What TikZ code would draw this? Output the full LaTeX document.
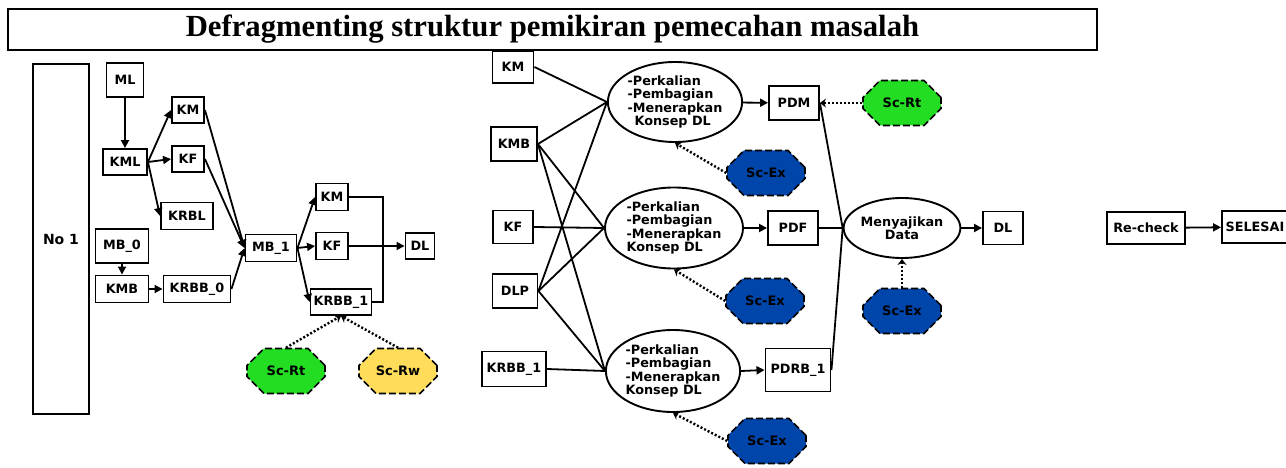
\documentclass[tikz,border=0pt]{standalone}
\usepackage{fontspec}
\setmainfont{DejaVu Sans}
\newfontfamily\titlefont{Liberation Serif}
\usepackage{tikz}
\usetikzlibrary{arrows.meta,shapes.geometric,shapes.misc}
\definecolor{scgreen}{RGB}{34,221,34}
\definecolor{scyellow}{RGB}{255,221,90}
\definecolor{scblue}{RGB}{0,70,170}

\begin{document}
\begin{tikzpicture}[x=1pt, y=-1pt,
  box/.style={draw, line width=1.9pt, fill=white, inner sep=0pt, font=\bfseries\fontsize{12.8}{14}\selectfont},
  oval/.style={ellipse, draw, line width=1.9pt, inner sep=0pt, align=left, font=\bfseries\fontsize{12.8}{13.6}\selectfont},
  sc/.style={chamfered rectangle, chamfered rectangle xsep=12pt, chamfered rectangle ysep=12pt, draw,
    dash pattern=on 7pt off 3pt, line width=1.6pt,
    inner sep=0pt, minimum width=78pt, minimum height=45pt, font=\bfseries\fontsize{13}{15}\selectfont},
  arr/.style={line width=1.8pt, -{Triangle[length=8pt,width=8pt]}},
  link/.style={line width=1.8pt},
  dotarr/.style={line width=2.4pt, dash pattern=on 2pt off 2pt, -{Stealth[length=6pt,width=9pt]}}]
  \useasboundingbox (0,0) rectangle (1286,468);

  % 0) Title
  \node[draw, line width=1.6pt, minimum width=1089pt, minimum height=41pt, inner sep=0pt,
    font=\titlefont\bfseries\fontsize{30.7}{32}\selectfont] (title) at (552.5,29.5)
    {Defragmenting struktur pemikiran pemecahan masalah};

  % 1) Left part
  \node[box, minimum width=56pt, minimum height=350pt, font=\bfseries\fontsize{14}{15}\selectfont] (no1) at (61,239) {No 1};
  \node[box, minimum width=37pt, minimum height=34pt] (ml) at (125,80) {ML};
  \node[box, minimum width=44pt, minimum height=26pt] (kml) at (125,162) {KML};
  \node[box, minimum width=32pt, minimum height=26pt] (km1) at (188,110) {KM};
  \node[box, minimum width=32pt, minimum height=26pt] (kf1) at (188,159) {KF};
  \node[box, minimum width=52pt, minimum height=27pt] (krbl) at (187,216) {KRBL};
  \node[box, minimum width=53pt, minimum height=34pt] (mb0) at (122,246) {MB\_0};
  \node[box, minimum width=53pt, minimum height=27pt] (kmb1) at (122,289) {KMB};
  \node[box, minimum width=67pt, minimum height=27pt] (krbb0) at (197,289) {KRBB\_0};
  \node[box, minimum width=51pt, minimum height=27pt] (mb1) at (271,248) {MB\_1};
  \node[box, minimum width=32pt, minimum height=27pt] (km2) at (332,197) {KM};
  \node[box, minimum width=32pt, minimum height=27pt] (kf2) at (332,246) {KF};
  \node[box, minimum width=61pt, minimum height=26pt] (krbb1) at (341,302) {KRBB\_1};
  \node[box, minimum width=29pt, minimum height=26pt] (dl1) at (420,246) {DL};
  \node[sc, fill=scgreen] (scrt1) at (286,371) {Sc-Rt};
  \node[sc, fill=scyellow] (scrw) at (398,371) {Sc-Rw};

  \draw[arr] (ml) -- (kml);
  \draw[arr] (kml.east) -- (km1.west);
  \draw[arr] (kml.east) -- (kf1.west);
  \draw[arr] (kml.east) -- (krbl.west);
  \draw[arr] (mb0) -- (kmb1);
  \draw[arr] (kmb1) -- (krbb0);
  \foreach \a in {km1, kf1, krbb0}
    \draw[arr] (\a.east) -- (mb1.west);
  \foreach \b in {km2, kf2, krbb1}
    \draw[arr] (mb1.east) -- (\b.west);
  \draw[arr] (kf2) -- (dl1);
  \draw[link] (km2.east) -- ++(34,0) |- (krbb1.east);
  \draw[dotarr] (scrt1.north) -- (krbb1.south);
  \draw[dotarr] (scrw.north) -- (krbb1.south);

  % 2) Right part
  \node[box, minimum width=41pt, minimum height=32pt] (km3) at (513,67) {KM};
  \node[box, minimum width=46pt, minimum height=34pt] (kmb2) at (514,144) {KMB};
  \node[box, minimum width=40pt, minimum height=33pt] (kf3) at (513,227) {KF};
  \node[box, minimum width=45pt, minimum height=34pt] (dlp) at (515,291) {DLP};
  \node[box, minimum width=64pt, minimum height=35pt] (krbb2) at (514,369) {KRBB\_1};
  \node[oval, minimum width=133pt, minimum height=80pt] (op1) at (675,102)
    {-Perkalian\\-Pembagian\\-Menerapkan\\\hspace*{7pt}Konsep DL};
  \node[oval, minimum width=138pt, minimum height=81pt] (op2) at (674,228)
    {-Perkalian\\-Pembagian\\-Menerapkan\\Konsep DL};
  \node[oval, minimum width=131pt, minimum height=82pt] (op3) at (673,371)
    {-Perkalian\\-Pembagian\\-Menerapkan\\Konsep DL};
  \node[box, minimum width=50pt, minimum height=34pt] (pdm) at (794,103) {PDM};
  \node[box, minimum width=50pt, minimum height=34pt] (pdf) at (793,228) {PDF};
  \node[box, minimum width=65pt, minimum height=43pt] (pdrb) at (798,370) {PDRB\_1};
  \node[oval, align=center, minimum width=111pt, minimum height=60pt, font=\bfseries\fontsize{12.8}{13.3}\selectfont] (sajikan) at (902,228)
    {Menyajikan\\Data};
  \node[box, minimum width=40pt, minimum height=33pt] (dl2) at (1003,228) {DL};
  \node[sc, fill=scgreen] (scrt2) at (902,103) {Sc-Rt};
  \node[sc, fill=scblue] (scex1) at (766,173) {Sc-Ex};
  \node[sc, fill=scblue] (scex2) at (765,301) {Sc-Ex};
  \node[sc, fill=scblue] (scex3) at (902,311) {Sc-Ex};
  \node[sc, fill=scblue] (scex4) at (767,441) {Sc-Ex};

  \foreach \a/\b in {km3/op1, kmb2/op1, kmb2/op2, kmb2/op3, kf3/op2,
                     dlp/op1, dlp/op2, dlp/op3, krbb2/op3}
    \draw[link] (\a.east) -- (\b.west);
  \draw[arr] (op1) -- (pdm);
  \draw[arr] (op2) -- (pdf);
  \draw[arr] (op3.east) -- (pdrb.west);
  \foreach \a in {pdm, pdf, pdrb}
    \draw[link] (\a.east) -- (sajikan.west);
  \draw[arr] (sajikan) -- (dl2);
  \draw[dotarr] (scrt2.west) -- (pdm.east);
  \draw[dotarr] (scex1.west) -- (op1.south);
  \draw[dotarr] (scex2.west) -- (op2.south);
  \draw[dotarr] (scex4.west) -- (op3.south);
  \draw[dotarr] (scex3.north) -- (sajikan.south);

  % 3) Re-check
  \node[box, minimum width=78pt, minimum height=32pt] (recheck) at (1146,228) {Re-check};
  \node[box, minimum width=66pt, minimum height=32pt] (selesai) at (1255,227) {SELESAI};
  \draw[arr] (recheck) -- (selesai);
\end{tikzpicture}
\end{document}
